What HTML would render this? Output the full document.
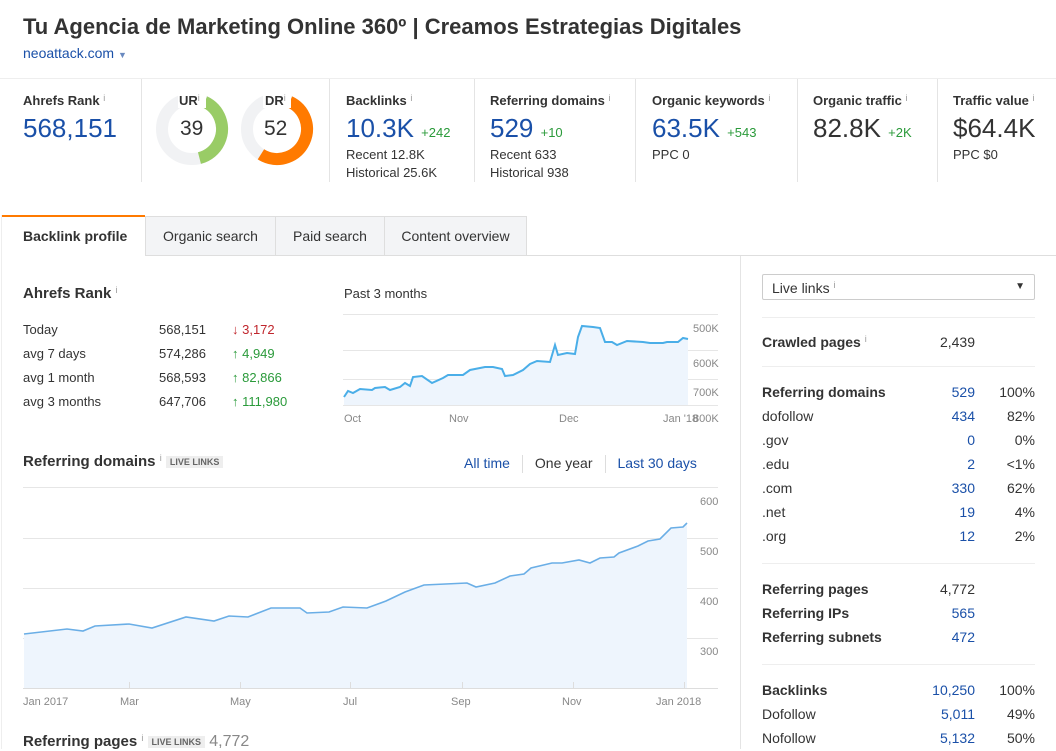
<!DOCTYPE html>
<html><head><meta charset="utf-8">
<style>
*{margin:0;padding:0;box-sizing:border-box}
body{width:1056px;height:749px;overflow:hidden;background:#fff;font-family:"Liberation Sans",Arial,sans-serif;color:#333;position:relative}
.a{position:absolute;white-space:nowrap}
.b{font-weight:bold}
.blue{color:#1a50a8}
.g{color:#2a9a3a}
.r{color:#c0262d}
.lbl{font-size:13px;font-weight:bold;color:#333}
.big{font-size:26px;color:#1a50a8}
.sm{font-size:13px;color:#333}
.i{font-size:9px;color:#999;vertical-align:top;font-weight:normal}
.vl{position:absolute;width:1px;background:#e4e4e4}
.hl{position:absolute;height:1px;background:#e4e4e4}
.tab{position:absolute;top:216px;height:40px;background:#f3f4f6;border:1px solid #dedede;font-size:14px;color:#333;text-align:center;line-height:38px}
.badge{font-size:9px;background:#eee;color:#666;padding:1px 4px;font-weight:bold;vertical-align:middle}
.rp{font-size:14px}
</style></head><body>
<div class="a b" style="left:23px;top:14px;font-size:22px;color:#333">Tu Agencia de Marketing Online 360º | Creamos Estrategias Digitales</div>
<div class="a" style="left:23px;top:45px;font-size:14px;color:#1a50a8">neoattack.com <span style="font-size:9px;color:#6a8ac0">▼</span></div>
<div class="hl" style="left:0;top:78px;width:1056px;background:#eee"></div>
<div class="vl" style="left:141px;top:79px;height:103px"></div>
<div class="vl" style="left:329px;top:79px;height:103px"></div>
<div class="vl" style="left:474px;top:79px;height:103px"></div>
<div class="vl" style="left:635px;top:79px;height:103px"></div>
<div class="vl" style="left:797px;top:79px;height:103px"></div>
<div class="vl" style="left:937px;top:79px;height:103px"></div>

<div class="a lbl" style="left:23px;top:93px">Ahrefs Rank <span class="i">i</span></div>
<div class="a big" style="left:23px;top:113px">568,151</div>

<svg class="a" style="left:150px;top:90px" width="180" height="90">
<circle cx="42" cy="39" r="30" fill="none" stroke="#f1f2f4" stroke-width="12"/>
<circle cx="42" cy="39" r="30" fill="none" stroke="#99cc66" stroke-width="12" stroke-dasharray="73.5 200" transform="rotate(-65 42 39)"/>
<circle cx="127" cy="39" r="30" fill="none" stroke="#f1f2f4" stroke-width="12"/>
<circle cx="127" cy="39" r="30" fill="none" stroke="#ff7a00" stroke-width="12" stroke-dasharray="98 200" transform="rotate(-65 127 39)"/>
<rect x="28" y="0" width="28" height="18" fill="#fff"/><rect x="113" y="0" width="28" height="18" fill="#fff"/>
</svg>
<div class="a lbl" style="left:179px;top:93px">UR<span class="i">i</span></div>
<div class="a lbl" style="left:265px;top:93px">DR<span class="i">i</span></div>
<div class="a" style="left:180px;top:117px;font-size:21px">39</div>
<div class="a" style="left:264px;top:117px;font-size:21px">52</div>

<div class="a lbl" style="left:346px;top:93px">Backlinks <span class="i">i</span></div>
<div class="a big" style="left:346px;top:113px">10.3K <span class="g" style="font-size:13px">+242</span></div>
<div class="a sm" style="left:346px;top:147px">Recent 12.8K</div>
<div class="a sm" style="left:346px;top:165px">Historical 25.6K</div>

<div class="a lbl" style="left:490px;top:93px">Referring domains <span class="i">i</span></div>
<div class="a big" style="left:490px;top:113px">529 <span class="g" style="font-size:13px">+10</span></div>
<div class="a sm" style="left:490px;top:147px">Recent 633</div>
<div class="a sm" style="left:490px;top:165px">Historical 938</div>

<div class="a lbl" style="left:652px;top:93px">Organic keywords <span class="i">i</span></div>
<div class="a big" style="left:652px;top:113px">63.5K <span class="g" style="font-size:13px">+543</span></div>
<div class="a sm" style="left:652px;top:147px">PPC 0</div>

<div class="a lbl" style="left:813px;top:93px">Organic traffic <span class="i">i</span></div>
<div class="a big" style="left:813px;top:113px;color:#333">82.8K <span class="g" style="font-size:13px">+2K</span></div>

<div class="a lbl" style="left:953px;top:93px">Traffic value <span class="i">i</span></div>
<div class="a big" style="left:953px;top:113px;color:#333">$64.4K</div>
<div class="a sm" style="left:953px;top:147px">PPC $0</div>

<!-- tabs -->
<div class="hl" style="left:527px;top:255px;width:529px;background:#dedede"></div>
<div class="a" style="left:2px;top:215px;width:143px;height:41px;border-top:2px solid #ff7a00;font-size:14px;font-weight:bold;line-height:38px;padding-left:21px">Backlink profile</div>
<div class="tab" style="left:145px;width:131px">Organic search</div>
<div class="tab" style="left:275px;width:110px">Paid search</div>
<div class="tab" style="left:384px;width:143px">Content overview</div>
<div class="vl" style="left:1px;top:215px;height:534px;background:#eee"></div>
<div class="vl" style="left:740px;top:256px;height:493px"></div>

<!-- Ahrefs rank block -->
<div class="a b" style="left:23px;top:285px;font-size:15px">Ahrefs Rank <span class="i">i</span></div>
<div class="a sm" style="left:23px;top:318px;line-height:24px">Today<br>avg 7 days<br>avg 1 month<br>avg 3 months</div>
<div class="a sm" style="left:159px;top:318px;line-height:24px">568,151<br>574,286<br>568,593<br>647,706</div>
<div class="a sm" style="left:232px;top:318px;line-height:24px"><span class="r">↓ 3,172</span><br><span class="g">↑ 4,949</span><br><span class="g">↑ 82,866</span><br><span class="g">↑ 111,980</span></div>
<div class="a sm" style="left:344px;top:286px">Past 3 months</div>
<svg class="a" style="left:0;top:0" width="740" height="749">
<g stroke="#e6e6e6" stroke-width="1"><line x1="343" y1="314.5" x2="718" y2="314.5"/><line x1="343" y1="350.5" x2="718" y2="350.5"/><line x1="343" y1="379.5" x2="718" y2="379.5"/><line x1="343" y1="405.5" x2="718" y2="405.5"/></g>
<polygon fill="#eef5fd" points="344,397 348,391 353,393 360,389 372,390 375,388 385,387 390,390 400,387 405,383 410,386 413,377 422,376 432,383 443,378 448,375 463,375 470,370 485,367 493,367 502,369 505,376 513,375 523,370 530,364 537,361 550,362 555,345 558,355 567,353 575,354 578,337 582,326 593,327 600,328 605,342 612,342 617,345 627,341 643,342 650,343 663,343 667,342 678,342 683,338 688,339 688,405 344,405"/>
<polyline fill="none" stroke="#4aaee8" stroke-width="2" points="344,397 348,391 353,393 360,389 372,390 375,388 385,387 390,390 400,387 405,383 410,386 413,377 422,376 432,383 443,378 448,375 463,375 470,370 485,367 493,367 502,369 505,376 513,375 523,370 530,364 537,361 550,362 555,345 558,355 567,353 575,354 578,337 582,326 593,327 600,328 605,342 612,342 617,345 627,341 643,342 650,343 663,343 667,342 678,342 683,338 688,339"/>
<g font-size="11" fill="#888" font-family="Liberation Sans,sans-serif">
<text x="693" y="332">500K</text><text x="693" y="367">600K</text><text x="693" y="396">700K</text><text x="693" y="422">800K</text>
<text x="344" y="422">Oct</text><text x="449" y="422">Nov</text><text x="559" y="422">Dec</text><text x="663" y="422">Jan '18</text>
</g>
<g stroke="#e6e6e6"><line x1="23" y1="487.5" x2="718" y2="487.5"/><line x1="23" y1="538.5" x2="718" y2="538.5"/><line x1="23" y1="588.5" x2="718" y2="588.5"/><line x1="23" y1="638.5" x2="718" y2="638.5"/></g>
<polygon fill="#eef5fd" points="24,634 67,629 83,631 95,626 129,624 152,628 186,617 214,621 229,616 248,617 271,608 300,608 307,613 329,612 343,607 367,608 386,601 405,592 424,585 467,583 476,587 495,583 510,576 524,574 531,568 552,563 562,563 579,560 590,563 600,558 614,557 619,553 638,546 648,541 660,539 671,528 683,527 687,523 687,688 24,688"/>
<polyline fill="none" stroke="#6aaee6" stroke-width="1.6" points="24,634 67,629 83,631 95,626 129,624 152,628 186,617 214,621 229,616 248,617 271,608 300,608 307,613 329,612 343,607 367,608 386,601 405,592 424,585 467,583 476,587 495,583 510,576 524,574 531,568 552,563 562,563 579,560 590,563 600,558 614,557 619,553 638,546 648,541 660,539 671,528 683,527 687,523"/>
<line x1="23" y1="688.5" x2="718" y2="688.5" stroke="#ddd"/>
<g stroke="#ddd"><line x1="129.5" y1="682" x2="129.5" y2="688"/><line x1="240.5" y1="682" x2="240.5" y2="688"/><line x1="350.5" y1="682" x2="350.5" y2="688"/><line x1="462.5" y1="682" x2="462.5" y2="688"/><line x1="573.5" y1="682" x2="573.5" y2="688"/><line x1="684.5" y1="682" x2="684.5" y2="688"/></g>
<g font-size="11" fill="#888" font-family="Liberation Sans,sans-serif">
<text x="700" y="505">600</text><text x="700" y="555">500</text><text x="700" y="605">400</text><text x="700" y="655">300</text>
<text x="23" y="705">Jan 2017</text><text x="120" y="705">Mar</text><text x="230" y="705">May</text><text x="343" y="705">Jul</text><text x="451" y="705">Sep</text><text x="562" y="705">Nov</text><text x="656" y="705">Jan 2018</text>
</g>
</svg>
<div class="a b" style="left:23px;top:453px;font-size:15px">Referring domains <span class="i">i</span> <span class="badge">LIVE LINKS</span></div>
<div class="a" style="left:464px;top:455px;font-size:14px"><span class="blue">All time</span><span style="display:inline-block;width:1px;height:18px;background:#ddd;margin:0 12px;vertical-align:middle"></span><span>One year</span><span style="display:inline-block;width:1px;height:18px;background:#ddd;margin:0 12px;vertical-align:middle"></span><span class="blue">Last 30 days</span></div>
<div class="a b" style="left:23px;top:733px;font-size:15px">Referring pages <span class="i">i</span> <span class="badge">LIVE LINKS</span> <span style="font-weight:normal;color:#888;font-size:16px">4,772</span></div>

<!-- right panel -->
<div class="a" style="left:762px;top:274px;width:273px;height:26px;border:1px solid #ccc;border-radius:2px;font-size:14px;padding:5px 9px">Live links <span class="i">i</span><span style="position:absolute;right:9px;top:6px;font-size:10px">▼</span></div>
<div class="hl" style="left:762px;top:317px;width:273px;background:#eee"></div>
<div class="hl" style="left:762px;top:366px;width:273px;background:#eee"></div>
<div class="hl" style="left:762px;top:563px;width:273px;background:#eee"></div>
<div class="hl" style="left:762px;top:664px;width:273px;background:#eee"></div>
<div class="a rp" style="left:762px;top:334px;font-weight:bold">Crawled pages <span class="i">i</span></div>
<div class="a rp" style="left:900px;top:334px;width:75px;text-align:right">2,439</div>
<div class="a rp" style="left:762px;top:380px;line-height:24px"><b>Referring domains</b><br>dofollow<br>.gov<br>.edu<br>.com<br>.net<br>.org</div>
<div class="a rp blue" style="left:900px;top:380px;width:75px;text-align:right;line-height:24px">529<br>434<br>0<br>2<br>330<br>19<br>12</div>
<div class="a rp" style="left:980px;top:380px;width:55px;text-align:right;line-height:24px">100%<br>82%<br>0%<br>&lt;1%<br>62%<br>4%<br>2%</div>
<div class="a rp b" style="left:762px;top:577px;line-height:24px">Referring pages<br>Referring IPs<br>Referring subnets</div>
<div class="a rp" style="left:900px;top:577px;width:75px;text-align:right;line-height:24px">4,772<br><span class="blue">565</span><br><span class="blue">472</span></div>
<div class="a rp" style="left:762px;top:678px;line-height:24px"><b>Backlinks</b><br>Dofollow<br>Nofollow</div>
<div class="a rp blue" style="left:900px;top:678px;width:75px;text-align:right;line-height:24px">10,250<br>5,011<br>5,132</div>
<div class="a rp" style="left:980px;top:678px;width:55px;text-align:right;line-height:24px">100%<br>49%<br>50%</div>
</body></html>
